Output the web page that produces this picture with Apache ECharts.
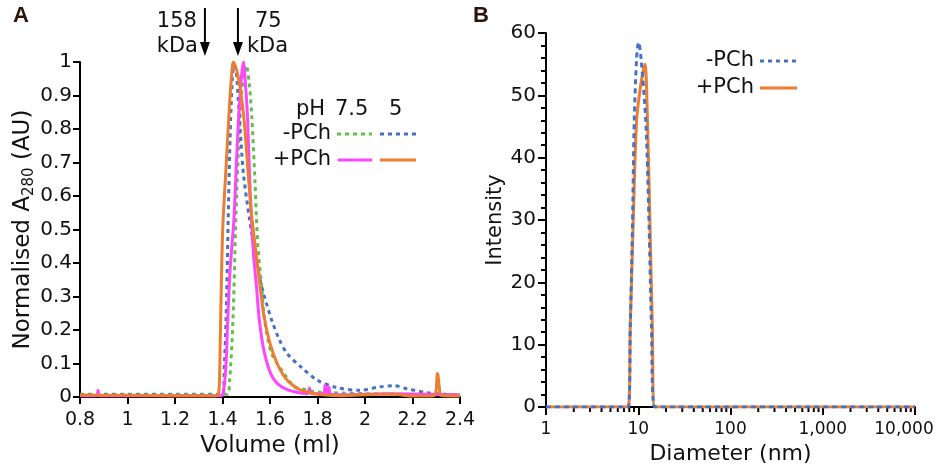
<!DOCTYPE html>
<html>
<head>
<meta charset="utf-8">
<script src="https://cdn.jsdelivr.net/npm/echarts@6/dist/echarts.min.js"></script>
<style>
  html, body { margin: 0; padding: 0; background: #fff; }
  #main { width: 935px; height: 468px; }
</style>
</head>
<body>
<div id="main"></div>
<script>
// Panel A: size exclusion, normalised A280 vs volume (ml)
var vol75Minus = [0.8, 1.0, 1.2, 1.42, 1.43, 1.444, 1.456, 1.468, 1.482, 1.5, 1.512, 1.523, 1.537, 1.543, 1.551, 1.565, 1.577, 1.607, 1.659, 1.705, 1.75, 1.8, 1.9, 2.0, 2.2, 2.4];
var abs75Minus = [0.008, 0.008, 0.008, 0.008, 0.05, 0.23, 0.53, 0.75, 0.92, 0.99, 0.94, 0.84, 0.64, 0.53, 0.43, 0.33, 0.23, 0.13, 0.07, 0.03, 0.022, 0.015, 0.012, 0.01, 0.008, 0.006];

var vol75Plus = [0.8, 0.87, 0.876, 0.882, 1.0, 1.2, 1.395, 1.405, 1.415, 1.422, 1.432, 1.448, 1.46, 1.472, 1.488, 1.498, 1.505, 1.515, 1.522, 1.53, 1.543, 1.555, 1.577, 1.61, 1.663, 1.758, 1.766, 1.774, 1.825, 1.832, 1.84, 1.848, 1.855, 1.9, 2.1, 2.4];
var abs75Plus = [0.004, 0.004, 0.02, 0.004, 0.004, 0.004, 0.004, 0.02, 0.1, 0.23, 0.38, 0.53, 0.72, 0.88, 1.0, 0.92, 0.84, 0.64, 0.53, 0.43, 0.33, 0.23, 0.13, 0.06, 0.025, 0.01, 0.027, 0.01, 0.01, 0.035, 0.012, 0.03, 0.008, 0.007, 0.01, 0.006];

var vol5Minus = [0.8, 1.0, 1.2, 1.40, 1.408, 1.415, 1.424, 1.43, 1.437, 1.448, 1.458, 1.467, 1.478, 1.489, 1.514, 1.537, 1.565, 1.607, 1.64, 1.672, 1.73, 1.8, 1.88, 1.98, 2.06, 2.12, 2.18, 2.26, 2.34, 2.4];
var abs5Minus = [0.007, 0.007, 0.006, 0.008, 0.1, 0.23, 0.53, 0.72, 0.88, 0.99, 0.97, 0.88, 0.76, 0.66, 0.53, 0.43, 0.33, 0.23, 0.17, 0.13, 0.09, 0.05, 0.028, 0.02, 0.03, 0.034, 0.024, 0.013, 0.008, 0.006];

var vol5Plus = [0.8, 1.0, 1.2, 1.37, 1.384, 1.39, 1.396, 1.402, 1.413, 1.427, 1.437, 1.446, 1.465, 1.489, 1.509, 1.523, 1.543, 1.56, 1.575, 1.6, 1.63, 1.663, 1.7, 1.733, 1.8, 1.9, 2.06, 2.12, 2.2, 2.29, 2.305, 2.318, 2.33, 2.4];
var abs5Plus = [0.006, 0.005, 0.004, 0.004, 0.01, 0.15, 0.37, 0.52, 0.66, 0.84, 0.95, 1.0, 0.96, 0.84, 0.66, 0.54, 0.42, 0.32, 0.24, 0.16, 0.1, 0.058, 0.033, 0.02, 0.008, 0.004, 0.008, 0.008, 0.003, 0.004, 0.07, 0.006, 0.004, 0.003];

// Panel B: DLS, intensity vs diameter (nm)
var diamMinus = [1, 7.77, 8.2, 8.66, 9.04, 9.6, 10.1, 10.7, 12.1, 13.1, 13.9, 15.1, 10000];
var intMinus = [0, 0, 13.1, 29.2, 45.6, 56, 58.5, 56.1, 45.6, 29.2, 13.1, 0, 0];

var diamPlus = [1, 7.77, 8.2, 8.8, 9.57, 10.6, 11.8, 12.6, 13.4, 14.2, 15.1, 10000];
var intPlus = [0, 0, 13.1, 29.2, 45.6, 51.5, 55, 45.6, 29.2, 13.1, 0, 0];

var diamMinorTicks = [2, 3, 4, 5, 6, 7, 8, 9, 20, 30, 40, 50, 60, 70, 80, 90,
  200, 300, 400, 500, 600, 700, 800, 900, 2000, 3000, 4000, 5000, 6000, 7000, 8000, 9000];

var markers = [{ vol: 1.326, top: '158', bottom: 'kDa', side: 'left' }, { vol: 1.465, top: '75', bottom: 'kDa', side: 'right' }];

var GREEN = '#5fbf48', MAGENTA = '#ff45ff', BLUE = '#4472c4', ORANGE = '#ed7d31';
var FONT = 'DejaVu Sans';

function zip(xs, ys) {
  return xs.map(function (x, i) { return [x, ys[i]]; });
}

var chart = echarts.init(document.getElementById('main'));

var axisLine = { show: true, lineStyle: { color: '#000', width: 2 } };
var axisTick = { show: true, length: 7, lineStyle: { color: '#000', width: 2 } };

function labels(size, extra) {
  return Object.assign({ color: '#111', fontFamily: FONT, fontSize: size }, extra);
}
function nameStyle(size) {
  return { color: '#111', fontFamily: FONT, fontSize: size };
}

function lineSeries(name, data, color, dash, xi) {
  return {
    name: name, type: 'line', xAxisIndex: xi, yAxisIndex: xi,
    data: data, showSymbol: false, smooth: 0.3,
    lineStyle: { color: color, width: 3, type: dash },
    animation: false
  };
}

chart.setOption({
  animation: false,
  grid: [
    { left: 80, right: 475, top: 62, bottom: 71, outerBoundsMode: 'none' },
    { left: 546, right: 20, top: 33, bottom: 61, outerBoundsMode: 'none' }
  ],
  xAxis: [{
    gridIndex: 0, type: 'value', min: 0.8, max: 2.4, interval: 0.2,
    name: 'Volume (ml)', nameLocation: 'middle', nameGap: 38, nameTextStyle: nameStyle(23),
    axisLine: axisLine, axisTick: axisTick, splitLine: { show: false },
    axisLabel: labels(19, { margin: 14, formatter: function (v) { return String(+v.toFixed(1)); } })
  }, {
    gridIndex: 1, type: 'log', logBase: 10, min: 1, max: 10000,
    name: 'Diameter (nm)', nameLocation: 'middle', nameGap: 34, nameTextStyle: nameStyle(22),
    axisLine: axisLine, axisTick: Object.assign({}, axisTick, { length: 8 }), splitLine: { show: false },
    axisLabel: labels(17, {
      margin: 14,
      formatter: function (v) {
        var s = Math.round(v).toLocaleString('en-US');
        return v >= 9999 ? '{last|' + s + '}' : s;
      },
      rich: { last: { fontFamily: FONT, fontSize: 17, color: '#111', padding: [0, 22, 0, 0] } }
    })
  }],
  yAxis: [{
    gridIndex: 0, type: 'value', min: 0, max: 1, interval: 0.1,
    name: 'Normalised A{sub|280} (AU)', nameLocation: 'middle', nameGap: 43,
    nameTextStyle: Object.assign({ rich: { sub: { fontFamily: FONT, fontSize: 15, color: '#111', verticalAlign: 'bottom', padding: [12, 0, 0, 0] } } }, nameStyle(23)),
    axisLine: axisLine, axisTick: axisTick, splitLine: { show: false },
    axisLabel: labels(20, { margin: 8, formatter: function (v) { return String(+v.toFixed(1)); } })
  }, {
    gridIndex: 1, type: 'value', min: 0, max: 60, interval: 10,
    name: 'Intensity', nameLocation: 'middle', nameGap: 40, nameTextStyle: nameStyle(21),
    axisLine: axisLine, axisTick: Object.assign({}, axisTick, { length: 8 }), splitLine: { show: false },
    minorTick: { show: true, splitNumber: 5, length: 5, lineStyle: { color: '#000', width: 2 } },
    axisLabel: labels(20, { margin: 10 })
  }],
  series: [
    lineSeries('pH 7.5 -PCh', zip(vol75Minus, abs75Minus), GREEN, [4, 4], 0),
    lineSeries('pH 5 -PCh', zip(vol5Minus, abs5Minus), BLUE, [4, 4], 0),
    lineSeries('pH 7.5 +PCh', zip(vol75Plus, abs75Plus), MAGENTA, 'solid', 0),
    lineSeries('pH 5 +PCh', zip(vol5Plus, abs5Plus), ORANGE, 'solid', 0),
    lineSeries('+PCh', zip(diamPlus, intPlus), ORANGE, 'solid', 1),
    lineSeries('-PCh', zip(diamMinus, intMinus), BLUE, [5, 4], 1),
    {
      type: 'custom', xAxisIndex: 1, yAxisIndex: 1, silent: true, clip: false,
      data: diamMinorTicks.map(function (d) { return [d, 0]; }),
      renderItem: function (params, api) {
        var p = api.coord([api.value(0), 0]);
        return {
          type: 'line',
          shape: { x1: p[0], y1: p[1], x2: p[0], y2: p[1] + 5 },
          style: { stroke: '#000', lineWidth: 2 }
        };
      }
    }
  ]
});

// annotations: panel letters, legend blocks, marker arrows
var g = [];
g.push({ type: 'text', left: 13, top: 5, style: { text: 'A', font: 'bold 22px "Liberation Sans"', fill: '#2b1408' } });
g.push({ type: 'text', left: 473, top: 5, style: { text: 'B', font: 'bold 22px "Liberation Sans"', fill: '#2b1408' } });

function txt(x, y, s, align) {
  return { type: 'text', x: x, y: y, style: { text: s, font: '21px "' + FONT + '"', fill: '#111', textAlign: align || 'left', textVerticalAlign: 'middle' } };
}
function seg(x1, x2, y, color, dash) {
  return { type: 'line', shape: { x1: x1, y1: y, x2: x2, y2: y }, style: { stroke: color, lineWidth: 3, lineDash: dash || null } };
}

// panel A legend
g.push(txt(296, 110, 'pH'));
g.push(txt(335, 110, '7.5'));
g.push(txt(389, 110, '5'));
g.push(txt(331, 134, '-PCh', 'right'));
g.push(txt(331, 160, '+PCh', 'right'));
g.push(seg(337, 372, 134, GREEN, [4, 4]));
g.push(seg(380, 416, 134, BLUE, [4, 4]));
g.push(seg(338, 372, 160, MAGENTA));
g.push(seg(380, 416, 160, ORANGE));

// panel B legend
g.push(txt(754, 61, '-PCh', 'right'));
g.push(txt(754, 88, '+PCh', 'right'));
g.push(seg(760, 797, 61, BLUE, [4, 4]));
g.push(seg(760, 797, 88, ORANGE));

markers.forEach(function (m) {
  var x = chart.convertToPixel({ xAxisIndex: 0 }, m.vol);
  g.push({ type: 'line', shape: { x1: x, y1: 8, x2: x, y2: 46 }, style: { stroke: '#000', lineWidth: 2 } });
  g.push({ type: 'polygon', shape: { points: [[x - 5, 42], [x + 5, 42], [x, 56]] }, style: { fill: '#000' } });
  if (m.side === 'left') {
    g.push(txt(x - 8, 22, m.top, 'right'));
    g.push(txt(x - 7, 47, m.bottom, 'right'));
  } else {
    g.push(txt(x + 17, 22, m.top, 'left'));
    g.push(txt(x + 9, 47, m.bottom, 'left'));
  }
});

chart.setOption({ graphic: g });
</script>
</body>
</html>
